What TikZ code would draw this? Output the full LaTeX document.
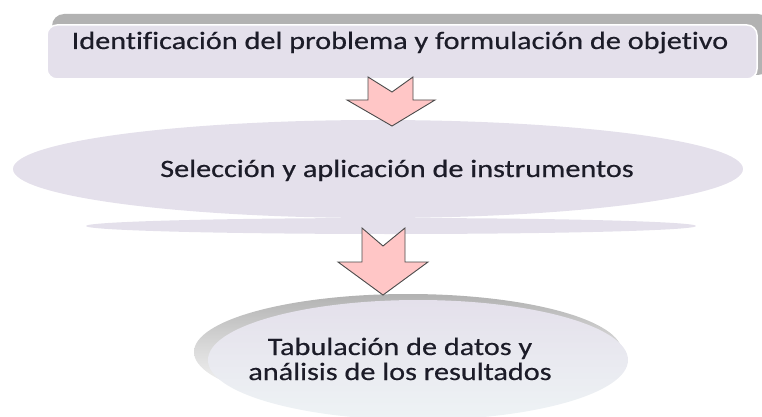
\documentclass[tikz,border=0pt]{standalone}
\usepackage{fontspec}
\setmainfont{Carlito}
\newfontfamily\fonttop[FakeStretch=1.21,FakeBold=0.5,Ligatures=NoCommon]{Carlito}
\newfontfamily\fontrest[FakeStretch=1.21,FakeBold=0.5,Ligatures=NoCommon]{Carlito}
\usetikzlibrary{shapes.geometric}
\definecolor{lav}{HTML}{E4E0EB}
\definecolor{lavlight}{HTML}{EEF3F5}
\definecolor{shadowgray}{HTML}{B2B2B2}
\definecolor{pinkfill}{HTML}{FFC6C6}
\definecolor{arrowline}{HTML}{4A4A4A}
\definecolor{txt}{HTML}{1C1C28}
\tikzset{
  lbl/.style={text=txt, inner sep=0pt},
  arrowshape/.style={fill=pinkfill, draw=arrowline, line width=0.9pt, line join=miter},
}
\begin{document}
\begin{tikzpicture}[x=1pt,y=-1pt]
\useasboundingbox (0,0) rectangle (762,417);
% top box
\fill[shadowgray, rounded corners=12] (52,14) rectangle (770,75);
\draw[white, line width=1.5pt, fill=lav, rounded corners=10] (47,25) rectangle (757,79);
\node[lbl, font=\fonttop\fontsize{25}{25}\selectfont, anchor=base] (top) at (400,49) {Identificación del problema y formulación de objetivo};
% middle ellipse
\fill[lav] (391,226) ellipse [x radius=305, y radius=8];
\fill[lav] (378,169) ellipse [x radius=365, y radius=49];
\node[lbl, font=\fontrest\fontsize{25}{25}\selectfont, anchor=base] (mid) at (397,177) {Selección y aplicación de instrumentos};
% bottom ellipse
\shade[top color=shadowgray, bottom color=white, middle color=shadowgray!45] (408,352) ellipse [x radius=214, y radius=58];
\shade[top color=lav, bottom color=lavlight] (418,360) ellipse [x radius=210, y radius=60];
\node[lbl, font=\fontrest\fontsize{25}{25}\selectfont, align=center, anchor=base] (bot) at (400,380) {Tabulación de datos y\\análisis de los resultados};
% arrows
\draw[arrowshape] (368,77) -- (392,92) -- (413,77) -- (413,100) -- (435,100) -- (392,126) -- (347,100) -- (368,100) -- cycle;
\draw[arrowshape] (362,228) -- (383,246) -- (405,228) -- (405,262) -- (428,262) -- (383,295) -- (338,262) -- (362,262) -- cycle;
\end{tikzpicture}
\end{document}
